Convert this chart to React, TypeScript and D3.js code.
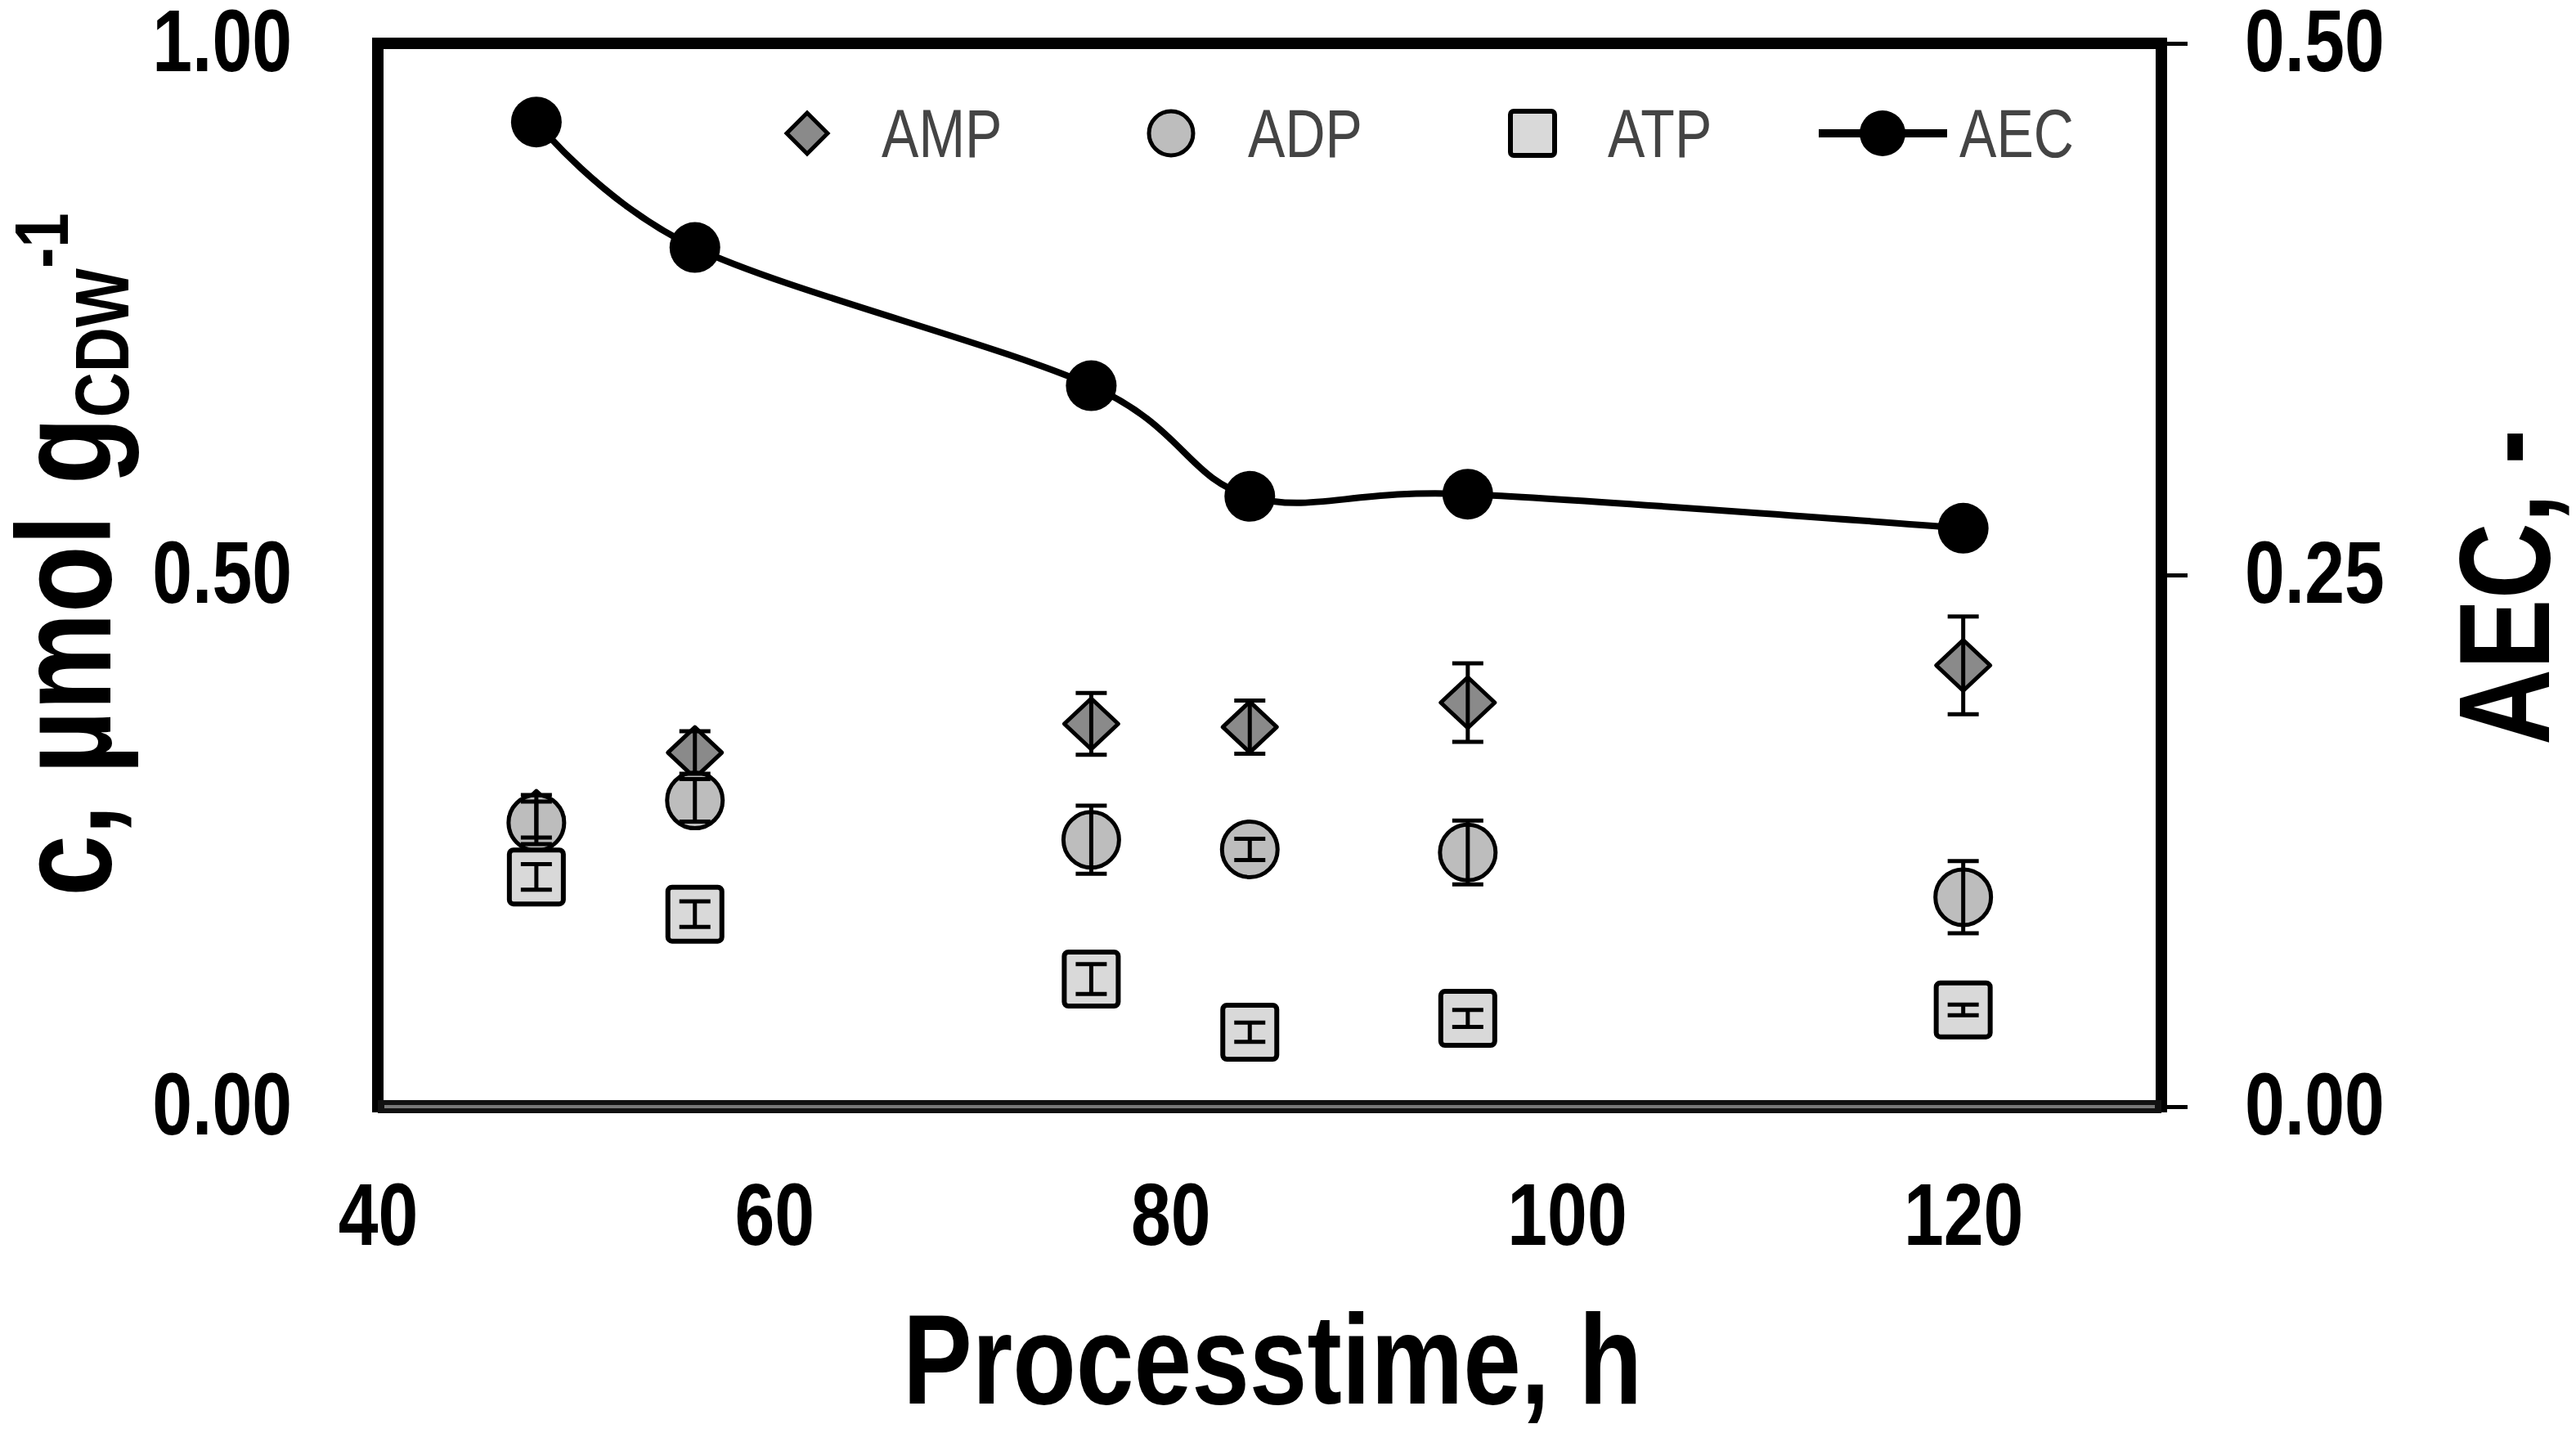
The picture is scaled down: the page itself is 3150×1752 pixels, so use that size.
import * as d3 from "d3";
import { useEffect, useRef } from "react";

// process time, h
const times = [48, 56, 76, 84, 95, 120];

// concentrations, umol/gCDW (left axis)
const amp = [0.273, 0.333, 0.36, 0.357, 0.38, 0.415];
const ampErr = [0.02, 0.02, 0.029, 0.025, 0.037, 0.046];
const adp = [0.267, 0.288, 0.251, 0.242, 0.239, 0.197];
const adpErr = [0.02, 0.02, 0.032, 0.01, 0.03, 0.034];
const atp = [0.216, 0.181, 0.12, 0.07, 0.083, 0.091];
const atpErr = [0.012, 0.012, 0.014, 0.009, 0.008, 0.005];

// adenylate energy charge (right axis)
const aec = [0.463, 0.404, 0.339, 0.287, 0.288, 0.272];

const xTicks = [40, 60, 80, 100, 120];
const leftTicks = [0, 0.5, 1];
const rightTicks = [0, 0.25, 0.5];
const legendNames = ["AMP", "ADP", "ATP", "AEC"];

const W = 3150;
const H = 1752;
const FONT = "'Liberation Sans', Arial, sans-serif";
// the original uses a narrow face; squeeze Liberation Sans to match
const NARROW = 0.82;

const App = () => {
  const svgRef = useRef<SVGSVGElement>(null);

  useEffect(() => {
    const svg = d3.select(svgRef.current);
    svg.selectAll("*").remove();

    const margin = { top: 53, right: W - 2643, bottom: H - 1353, left: 462 };
    const x = d3.scaleLinear().domain([40, 130]).range([margin.left, W - margin.right]);
    const yL = d3.scaleLinear().domain([0, 1]).range([H - margin.bottom, margin.top]);
    const yR = d3.scaleLinear().domain([0, 0.5]).range([H - margin.bottom, margin.top]);

    svg.append("rect").attr("width", W).attr("height", H).attr("fill", "#fff");

    // axes
    const xAxis = svg
      .append("g")
      .attr("transform", `translate(0, ${H - margin.bottom})`)
      .call(d3.axisBottom(x).tickValues(xTicks).tickSize(0));
    xAxis.selectAll("text").attr("transform", `translate(0, 169) scale(${NARROW}, 1)`);

    const leftAxis = svg
      .append("g")
      .attr("transform", `translate(${margin.left}, 0)`)
      .call(d3.axisLeft(yL).tickValues(leftTicks).tickFormat(d3.format(".2f")).tickSize(0));
    leftAxis.selectAll("text").attr("transform", `translate(-105, 33) scale(${NARROW}, 1)`);

    const rightAxis = svg
      .append("g")
      .attr("transform", `translate(${W - margin.right}, 0)`)
      .call(d3.axisRight(yR).tickValues(rightTicks).tickFormat(d3.format(".2f")).tickSize(32).tickSizeOuter(0));
    rightAxis.selectAll("text").attr("transform", `translate(102, 33) scale(${NARROW}, 1)`);
    rightAxis.selectAll("line").attr("stroke", "#000").attr("stroke-width", 5);

    svg.selectAll(".domain").remove();
    svg
      .selectAll(".tick text")
      .attr("x", 0)
      .attr("y", 0)
      .attr("dy", null)
      .attr("fill", "#000")
      .attr("font-size", 107)
      .attr("font-weight", "bold")
      .attr("font-family", FONT);

    // frame
    svg
      .append("rect")
      .attr("x", margin.left)
      .attr("y", margin.top)
      .attr("width", W - margin.right - margin.left)
      .attr("height", H - margin.bottom - margin.top)
      .attr("fill", "none")
      .attr("stroke", "#000")
      .attr("stroke-width", 14);
    svg
      .append("line")
      .attr("x1", margin.left)
      .attr("x2", W - margin.right)
      .attr("y1", H - margin.bottom)
      .attr("y2", H - margin.bottom)
      .attr("stroke", "#111")
      .attr("stroke-width", 16);
    svg
      .append("line")
      .attr("x1", margin.left + 8)
      .attr("x2", W - margin.right - 8)
      .attr("y1", H - margin.bottom)
      .attr("y2", H - margin.bottom)
      .attr("stroke", "#777")
      .attr("stroke-width", 4);

    // marker shapes
    const diamond = (cx: number, cy: number, hw: number, hh: number) => {
      const p = d3.path();
      p.moveTo(cx, cy - hh);
      p.lineTo(cx + hw, cy);
      p.lineTo(cx, cy + hh);
      p.lineTo(cx - hw, cy);
      p.closePath();
      return p.toString();
    };

    const plot = svg.append("g");

    plot
      .selectAll(".amp")
      .data(times)
      .join("path")
      .attr("d", (t, i) => diamond(x(t), yL(amp[i]), 33, 31))
      .attr("fill", "#8a8a8a")
      .attr("stroke", "#000")
      .attr("stroke-width", 5)
      .attr("stroke-linejoin", "round");

    plot
      .selectAll(".adp")
      .data(times)
      .join("circle")
      .attr("cx", (t) => x(t))
      .attr("cy", (t, i) => yL(adp[i]))
      .attr("r", 34)
      .attr("fill", "#bdbdbd")
      .attr("stroke", "#000")
      .attr("stroke-width", 5);

    plot
      .selectAll(".atp")
      .data(times)
      .join("rect")
      .attr("x", (t) => x(t) - 33)
      .attr("y", (t, i) => yL(atp[i]) - 33)
      .attr("width", 66)
      .attr("height", 66)
      .attr("rx", 5)
      .attr("fill", "#d9d9d9")
      .attr("stroke", "#000")
      .attr("stroke-width", 6);

    // error bars
    const errorBars = (vals: number[], errs: number[]) => {
      const g = plot.append("g").attr("stroke", "#000").attr("stroke-width", 5);
      times.forEach((t, i) => {
        const cx = x(t);
        const lo = yL(vals[i] - errs[i]);
        const hi = yL(vals[i] + errs[i]);
        g.append("line").attr("x1", cx).attr("x2", cx).attr("y1", lo).attr("y2", hi);
        g.append("line").attr("x1", cx - 19).attr("x2", cx + 19).attr("y1", lo).attr("y2", lo);
        g.append("line").attr("x1", cx - 19).attr("x2", cx + 19).attr("y1", hi).attr("y2", hi);
      });
    };
    errorBars(amp, ampErr);
    errorBars(adp, adpErr);
    errorBars(atp, atpErr);

    // AEC line
    const line = d3
      .line<number>()
      .x((t) => x(t))
      .y((t, i) => yR(aec[i]))
      .curve(d3.curveCardinal.tension(0));

    plot
      .append("path")
      .datum(times)
      .attr("d", line)
      .attr("fill", "none")
      .attr("stroke", "#000")
      .attr("stroke-width", 8);

    plot
      .selectAll(".aec")
      .data(times)
      .join("circle")
      .attr("cx", (t) => x(t))
      .attr("cy", (t, i) => yR(aec[i]))
      .attr("r", 31)
      .attr("fill", "#000");

    // legend
    const legendX = [987, 1432, 1874, 2302];
    const legendTextX = [1078, 1526, 1966, 2396];
    const ly = 163;
    const legend = svg.append("g");
    legend
      .append("path")
      .attr("d", diamond(legendX[0], ly, 25, 25))
      .attr("fill", "#8a8a8a")
      .attr("stroke", "#000")
      .attr("stroke-width", 5);
    legend
      .append("circle")
      .attr("cx", legendX[1])
      .attr("cy", ly)
      .attr("r", 27)
      .attr("fill", "#bdbdbd")
      .attr("stroke", "#000")
      .attr("stroke-width", 5);
    legend
      .append("rect")
      .attr("x", legendX[2] - 27)
      .attr("y", ly - 27)
      .attr("width", 54)
      .attr("height", 54)
      .attr("rx", 4)
      .attr("fill", "#d9d9d9")
      .attr("stroke", "#000")
      .attr("stroke-width", 6);
    legend
      .append("line")
      .attr("x1", legendX[3] - 78)
      .attr("x2", legendX[3] + 79)
      .attr("y1", ly)
      .attr("y2", ly)
      .attr("stroke", "#000")
      .attr("stroke-width", 10);
    legend.append("circle").attr("cx", legendX[3]).attr("cy", ly).attr("r", 28).attr("fill", "#000");
    legend
      .selectAll("text")
      .data(legendNames)
      .join("text")
      .attr("transform", (d, i) => `translate(${legendTextX[i]}, 192) scale(${NARROW}, 1)`)
      .attr("font-family", FONT)
      .attr("font-size", 83)
      .attr("fill", "#444")
      .text((d) => d);

    // axis titles
    svg
      .append("text")
      .attr("transform", `translate(1556, 1716) scale(${NARROW}, 1)`)
      .attr("text-anchor", "middle")
      .attr("font-family", FONT)
      .attr("font-weight", "bold")
      .attr("font-size", 155)
      .text("Processtime, h");

    const yTitle = svg
      .append("text")
      .attr("transform", `translate(135, 678) rotate(-90) scale(${NARROW}, 1)`)
      .attr("text-anchor", "middle")
      .attr("font-family", FONT)
      .attr("font-weight", "bold");
    yTitle.append("tspan").attr("font-size", 164).text("c, µmol g");
    yTitle.append("tspan").attr("font-size", 93).attr("dy", 22).text("CDW");
    yTitle.append("tspan").attr("font-size", 93).attr("dy", -74).text("-1");

    svg
      .append("text")
      .attr("transform", `translate(3117, 718) rotate(-90) scale(${NARROW}, 1)`)
      .attr("text-anchor", "middle")
      .attr("font-family", FONT)
      .attr("font-weight", "bold")
      .attr("font-size", 157)
      .text("AEC, -");
  }, []);

  return (
    <svg
      ref={svgRef}
      width={W}
      height={H}
      style={{ position: "absolute", left: 0, top: 0, display: "block" }}
    />
  );
};

export default App;
